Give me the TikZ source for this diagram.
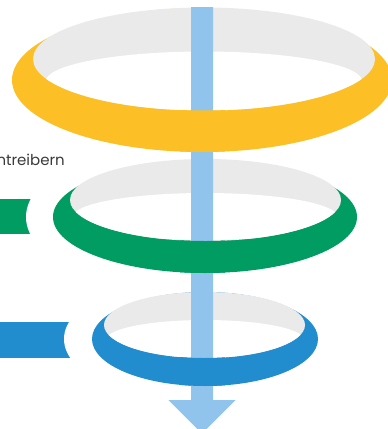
\documentclass[tikz,border=0pt]{standalone}
\usepackage{fontspec}
\setmainfont{Poppins}
\definecolor{ringyellow}{HTML}{FCC026}
\definecolor{ringgreen}{HTML}{009C62}
\definecolor{ringblue}{HTML}{228DCE}
\definecolor{ringgray}{HTML}{EAEAEA}
\definecolor{flowblue}{HTML}{91C4EC}
\definecolor{txtgray}{HTML}{3A3A3A}
\tikzset{
  lbl/.style={anchor=base east, text=txtgray, inner sep=0pt, font=\fontsize{15}{18}\selectfont},
}
\begin{document}
\begin{tikzpicture}[x=1pt,y=-1pt]
\useasboundingbox (0,0) rectangle (388,429);
% side tabs with white halo cut
\fill[ringgreen] (0,199) rectangle (45,234);
\begin{scope}
  \clip (0,180) rectangle (60,255);
  \fill[white] (205,217) ellipse [x radius=179pt, y radius=79pt];
\end{scope}
\fill[ringblue] (0,322) rectangle (85,358);
\begin{scope}
  \clip (0,300) rectangle (95,380);
  \fill[white] (205,339) ellipse [x radius=141pt, y radius=64pt];
\end{scope}
% yellow ring (back)
\fill[ringyellow] (202,80) ellipse [x radius=190pt, y radius=72pt];
\fill[ringgray] (204,59) ellipse [x radius=171pt, y radius=51.5pt];
\begin{scope}
  \clip (204,59) ellipse [x radius=171pt, y radius=51.5pt];
  \fill[white] (204,81) ellipse [x radius=158pt, y radius=29.5pt];
\end{scope}
% green ring (back)
\fill[ringgreen] (205,217) ellipse [x radius=152pt, y radius=56pt];
\fill[ringgray] (205.5,200) ellipse [x radius=135.5pt, y radius=41pt];
\begin{scope}
  \clip (205.5,200) ellipse [x radius=135.5pt, y radius=41pt];
  \fill[white] (205,216.5) ellipse [x radius=132pt, y radius=23.5pt];
\end{scope}
% blue ring (back)
\fill[ringblue] (205,339) ellipse [x radius=113pt, y radius=47pt];
\fill[ringgray] (204.5,325) ellipse [x radius=100.5pt, y radius=33pt];
\begin{scope}
  \clip (204.5,325) ellipse [x radius=100.5pt, y radius=33pt];
  \fill[white] (205,339) ellipse [x radius=98pt, y radius=19pt];
\end{scope}
% flow arrow
\fill[flowblue] (191,7) -- (213,7) -- (213,400) -- (235.5,400) -- (202,433.5)
  -- (168.5,400) -- (191,400) -- cycle;
% ring fronts over the arrow
\begin{scope}
  \clip (180,80) rectangle (225,160);
  \fill[ringyellow, even odd rule] (202,80) ellipse [x radius=190pt, y radius=72pt]
    (204,59) ellipse [x radius=171pt, y radius=51.5pt];
\end{scope}
\begin{scope}
  \clip (180,217) rectangle (225,280);
  \fill[ringgreen, even odd rule] (205,217) ellipse [x radius=152pt, y radius=56pt]
    (205.5,200) ellipse [x radius=135.5pt, y radius=41pt];
\end{scope}
\begin{scope}
  \clip (180,339) rectangle (225,392);
  \fill[ringblue, even odd rule] (205,339) ellipse [x radius=113pt, y radius=47pt]
    (204.5,325) ellipse [x radius=100.5pt, y radius=33pt];
\end{scope}
% label
\node[lbl] (label) at (65,165) {ntreibern};
\end{tikzpicture}
\end{document}
